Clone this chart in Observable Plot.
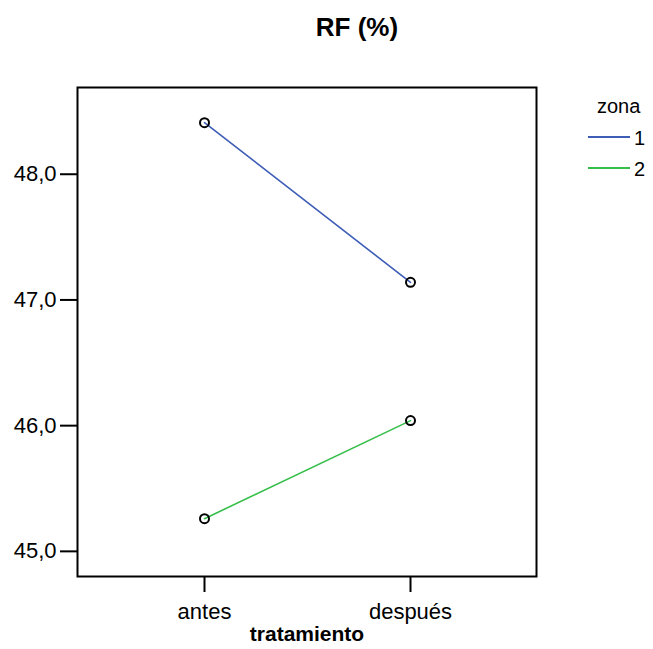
<!DOCTYPE html>
<html>
<head>
<meta charset="utf-8">
<script src="https://cdn.jsdelivr.net/npm/d3@7"></script>
<script src="https://cdn.jsdelivr.net/npm/@observablehq/plot@0.6"></script>
<style>
  html, body { margin: 0; padding: 0; background: #fff; }
  #wrap { position: relative; width: 653px; height: 649px; font-family: "Liberation Sans", Arial, sans-serif; color: #000; }
  #title { position: absolute; left: 0; top: 14px; width: 714px; text-align: center; font-weight: bold; font-size: 26px; line-height: 26px; }
  .lg { position: absolute; font-size: 20px; line-height: 20px; white-space: nowrap; }
  .sw { position: absolute; width: 42px; height: 2px; }
  #chart svg g[aria-label$="tick"], #chart svg g[aria-label$="tick"] * { stroke-width: 2px !important; stroke: #000; }
</style>
</head>
<body>
<div id="wrap">
  <div id="chart"></div>
  <div id="title"></div>
  <div id="legend"></div>
</div>
<script>
const titleText = "RF (%)";
const xLabel = "tratamiento";
const legendTitle = "zona";
const tratamientos = ["antes", "después"];
const zonas = ["1", "2"];
const zona1 = [48.41, 47.14];
const zona2 = [45.26, 46.04];
const colors = ["#3d5db6", "#35bf4a"];
const yTicks = [45, 46, 47, 48];

const series = [zona1, zona2];
const data = [];
zonas.forEach((z, i) => tratamientos.forEach((t, j) => data.push({zona: z, tratamiento: t, value: series[i][j]})));

const fmt = v => v.toFixed(1).replace(".", ",");

const chart = Plot.plot({
  width: 653,
  height: 649,
  marginLeft: 77,
  marginRight: 117,
  marginTop: 87,
  marginBottom: 73,
  style: {fontFamily: "Liberation Sans, Arial, sans-serif", fontSize: "22px", color: "#000", background: "#fff"},
  x: {type: "point", domain: tratamientos, padding: 0.614},
  y: {domain: [44.80, 48.69]},
  color: {domain: zonas, range: colors},
  marks: [
    Plot.axisY({ticks: yTicks, tickFormat: fmt, tickSize: 17, tickPadding: 4, strokeWidth: 2, label: null, fontSize: 22}),
    Plot.axisX({tickSize: 16, tickPadding: 11, strokeWidth: 2, label: null, fontSize: 22}),
    Plot.text([xLabel], {frameAnchor: "bottom", dy: 64, text: d => d, fontWeight: "bold", fontSize: 21}),
    Plot.frame({stroke: "#000", strokeWidth: 2}),
    Plot.line(data, {x: "tratamiento", y: "value", z: "zona", stroke: "zona", strokeWidth: 1.6}),
    Plot.dot(data, {x: "tratamiento", y: "value", r: 4.5, stroke: "#000", strokeWidth: 2, fill: "none"})
  ]
});
document.getElementById("chart").appendChild(chart);
document.getElementById("title").textContent = titleText;

const leg = document.getElementById("legend");
function add(cls, text, left, top) {
  const el = document.createElement("div");
  el.className = cls;
  if (text != null) el.textContent = text;
  el.style.left = left + "px";
  el.style.top = top + "px";
  leg.appendChild(el);
  return el;
}
add("lg", legendTitle, 597, 96);
zonas.forEach((z, i) => {
  const y = 137 + i * 31;
  const sw = add("sw", null, 588, y - 1);
  sw.style.background = colors[i];
  add("lg", z, 634, y - 9.5);
});
</script>
</body>
</html>
